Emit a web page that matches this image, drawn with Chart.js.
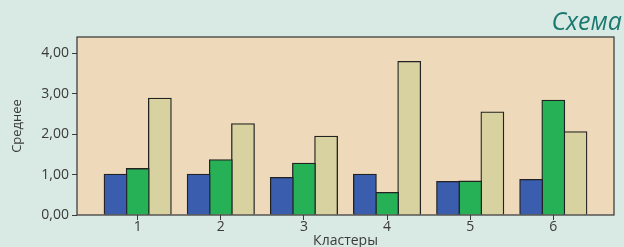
<!DOCTYPE html>
<html>
<head>
<meta charset="utf-8">
<script src="https://cdn.jsdelivr.net/npm/chart.js@4"></script>
<style>
  html, body { margin: 0; padding: 0; background: #d9e9e4; overflow: hidden; }
  #wrap { position: relative; width: 624px; height: 248px; }
  #schema {
    position: absolute; right: 2px; top: 8px;
    font-family: "Open Sans", sans-serif; font-style: italic;
    font-size: 25px; color: #1b7a70; line-height: 1;
  }
</style>
</head>
<body>
<div id="wrap">
  <div id="schema">Схема</div>
  <canvas id="chart"></canvas>
</div>
<script>
const clusters = [1, 2, 3, 4, 5, 6];
const blueVals = [1.00, 1.00, 0.92, 1.00, 0.82, 0.87];
const greenVals = [1.14, 1.36, 1.27, 0.55, 0.83, 2.83];
const tanVals = [2.88, 2.25, 1.94, 3.79, 2.54, 2.05];
const yTicks = [0, 1, 2, 3, 4];

const font = { family: "Open Sans", size: 14, lineHeight: 1 };
const ink = "#3a3a3a";

function toPoints(vals) {
  return clusters.map((c, i) => ({ x: c, y: vals[i] }));
}

function makeSet(label, vals, color) {
  return {
    label: label,
    data: toPoints(vals),
    backgroundColor: color,
    borderColor: "#222",
    borderWidth: 1.3,
    inflateAmount: 0.8,
    categoryPercentage: 0.8,
    barPercentage: 1.0
  };
}

// фон и рамка области построения
const plotFrame = {
  id: "plotFrame",
  beforeDatasetsDraw(chart) {
    const { ctx, chartArea: a } = chart;
    ctx.save();
    ctx.fillStyle = "#eedabb";
    ctx.fillRect(a.left, a.top, a.right - a.left, a.bottom - a.top);
    ctx.restore();
  },
  afterDraw(chart) {
    const { ctx, chartArea: a } = chart;
    ctx.save();
    ctx.strokeStyle = "#333";
    ctx.lineWidth = 1.2;
    ctx.strokeRect(a.left, a.top, a.right - a.left, a.bottom - a.top);
    ctx.restore();
  }
};

new Chart(document.getElementById("chart"), {
  type: "bar",
  data: {
    datasets: [
      makeSet("Группа 1", blueVals, "#3a5dae"),
      makeSet("Группа 2", greenVals, "#27b157"),
      makeSet("Группа 3", tanVals, "#d8d2a0")
    ]
  },
  options: {
    responsive: true,
    maintainAspectRatio: false,
    animation: false,
    layout: { padding: { top: 37, right: 10, left: 0, bottom: 0 } },
    plugins: { legend: { display: false }, tooltip: { enabled: false } },
    scales: {
      x: {
        type: "linear",
        min: 0.27,
        max: 6.73,
        offset: false,
        grid: { offset: false, drawOnChartArea: false, tickLength: 5, color: ink },
        border: { display: false },
        afterBuildTicks: s => { s.ticks = clusters.map(v => ({ value: v })); },
        ticks: { font: font, color: ink, padding: 0, callback: v => String(v) },
        title: { display: true, text: "Кластеры", font: font, color: ink, padding: 0 }
      },
      y: {
        min: 0,
        max: 4.4,
        grid: { drawOnChartArea: false, tickLength: 5, color: ink },
        border: { display: false },
        afterBuildTicks: s => { s.ticks = yTicks.map(v => ({ value: v })); },
        afterFit: s => { s.width = 77; },
        ticks: {
          font: font, color: ink, padding: 3,
          callback: v => v.toFixed(2).replace(".", ",")
        },
        title: { display: true, text: "Среднее", font: { family: "Open Sans", size: 13, lineHeight: 1 }, color: ink, padding: { top: 11, bottom: 0 } }
      }
    }
  },
  plugins: [plotFrame]
});
</script>
</body>
</html>
